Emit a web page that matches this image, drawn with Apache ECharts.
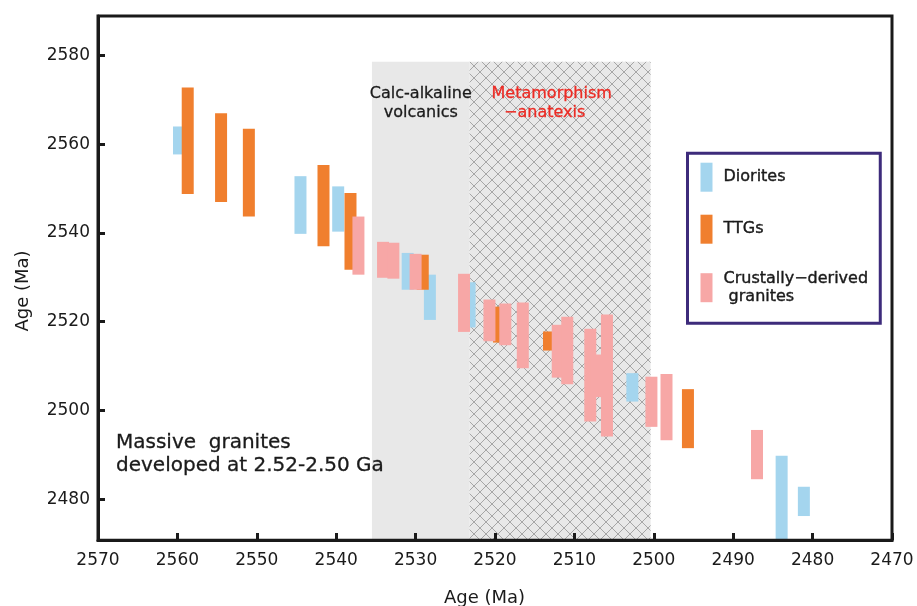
<!DOCTYPE html>
<html>
<head>
<meta charset="utf-8">
<script src="https://cdn.jsdelivr.net/npm/echarts@6/dist/echarts.min.js"></script>
<style>
  html, body { margin: 0; padding: 0; background: #ffffff; }
  #chart { width: 917px; height: 606px; }
</style>
</head>
<body>
<div id="chart"></div>
<script>
// x ticks (Ma), oldest on the left
const xTicks = [2570, 2560, 2550, 2540, 2530, 2520, 2510, 2500, 2490, 2480, 2470];
const yTicks = [2480, 2500, 2520, 2540, 2560, 2580];

// each bar: [age position, min, max]
const diorites = [
  [2559.8, 2557.7, 2564.0],
  [2544.5, 2539.8, 2552.8],
  [2539.75, 2540.3, 2550.5],
  [2531.0, 2527.2, 2535.5],
  [2528.2, 2520.4, 2530.6],
  [2523.2, 2518.7, 2528.9],
  [2502.7, 2502.0, 2508.4],
  [2483.9, 2468.0, 2489.8],
  [2481.1, 2476.2, 2482.8]
];
const ttgs = [
  [2558.7, 2548.8, 2572.8],
  [2554.5, 2547.0, 2567.0],
  [2551.0, 2543.7, 2563.5],
  [2541.6, 2537.0, 2555.3],
  [2538.2, 2531.7, 2549.0],
  [2529.1, 2527.2, 2535.1],
  [2519.5, 2515.3, 2523.4],
  [2513.2, 2513.5, 2517.8],
  [2495.7, 2491.5, 2504.8]
];
const crustal = [
  [2537.2, 2530.6, 2543.7],
  [2534.1, 2529.9, 2538.0],
  [2532.8, 2529.7, 2537.8],
  [2530.0, 2527.2, 2535.3],
  [2523.9, 2517.7, 2530.8],
  [2520.7, 2515.6, 2525.0],
  [2518.7, 2514.7, 2524.1],
  [2516.5, 2509.5, 2524.3],
  [2512.1, 2507.4, 2519.3],
  [2510.9, 2505.9, 2521.1],
  [2508.0, 2497.5, 2518.4],
  [2507.2, 2503.0, 2512.6],
  [2505.9, 2494.1, 2521.6],
  [2500.3, 2496.3, 2507.6],
  [2498.4, 2493.3, 2508.2],
  [2487.0, 2484.5, 2495.6]
];

// shaded periods: [from, to, top]
const zones = [
  [2535.5, 2523.2, 2578.6],
  [2523.2, 2500.4, 2578.6]
];

const FONT = 'DejaVu Sans';
const INK = '#1a1a1a';
const RED = '#ec2b24';

// crosshatch for metamorphism zone
function makeHatch() {
  const c = document.createElement('canvas');
  c.width = 12;
  c.height = 12;
  const ctx = c.getContext('2d');
  ctx.fillStyle = '#e8e8e8';
  ctx.fillRect(0, 0, 12, 12);
  ctx.strokeStyle = '#a6a6a6';
  ctx.lineWidth = 1;
  ctx.beginPath();
  ctx.moveTo(0, 0); ctx.lineTo(12, 12);
  ctx.moveTo(12, 0); ctx.lineTo(0, 12);
  ctx.stroke();
  return c;
}
const hatch = { image: makeHatch(), repeat: 'repeat' };

function barItem(params, api) {
  const top = api.coord([api.value(0), api.value(2)]);
  const bottom = api.coord([api.value(0), api.value(1)]);
  return {
    type: 'rect',
    shape: { x: top[0] - 6, y: top[1], width: 12, height: bottom[1] - top[1] },
    style: { fill: api.visual('color') }
  };
}

function zoneItem(params, api) {
  const cs = params.coordSys;
  const a = api.coord([api.value(0), api.value(2)]);
  const b = api.coord([api.value(1), api.value(2)]);
  return {
    type: 'rect',
    shape: { x: a[0], y: a[1], width: b[0] - a[0], height: cs.y + cs.height - a[1] },
    style: { fill: params.dataIndex === 0 ? '#e8e8e8' : hatch }
  };
}

function barSeries(name, data, color) {
  return {
    name: name,
    type: 'custom',
    renderItem: barItem,
    clip: true,
    itemStyle: { color: color },
    encode: { x: 0, y: [1, 2] },
    data: data,
    z: 3
  };
}

function note(text, x, y, size, color, align, lh) {
  return {
    type: 'text', z: 50,
    style: {
      text: text, x: x, y: y, align: align, verticalAlign: 'middle',
      font: size + 'px "DejaVu Sans"', lineHeight: lh, fill: color,
      stroke: color, lineWidth: 0.3
    }
  };
}

const plain = function (v) { return String(v); };

const chart = echarts.init(document.getElementById('chart'));
const option = {
  animation: false,
  grid: { left: 98, right: 25, top: 16, bottom: 66, outerBoundsMode: 'none', containLabel: false },
  xAxis: {
    type: 'value',
    inverse: true,
    min: xTicks[xTicks.length - 1],
    max: xTicks[0],
    interval: 10,
    name: 'Age (Ma)',
    nameLocation: 'middle',
    nameGap: 49,
    nameTextStyle: { fontFamily: FONT, fontSize: 18, color: INK, padding: [0, 21, 0, 0] },
    axisLine: { lineStyle: { color: INK, width: 3 } },
    axisTick: { inside: true, length: 7, lineStyle: { color: INK, width: 3 } },
    axisLabel: { fontFamily: FONT, fontSize: 17, color: INK, margin: 12, formatter: plain },
    splitLine: { show: false },
    z: 10
  },
  yAxis: {
    type: 'value',
    min: 2470.8,
    max: 2588.9,
    name: 'Age (Ma)',
    nameLocation: 'middle',
    nameGap: 66,
    nameRotate: 90,
    nameTextStyle: { fontFamily: FONT, fontSize: 18, color: INK, padding: [0, 26, 0, 0] },
    axisLine: { lineStyle: { color: INK, width: 3 } },
    axisTick: { inside: true, length: 7, customValues: yTicks, lineStyle: { color: INK, width: 3 } },
    axisLabel: { fontFamily: FONT, fontSize: 17, color: INK, margin: 8, customValues: yTicks, formatter: plain },
    splitLine: { show: false },
    z: 10
  },
  legend: {
    orient: 'vertical',
    left: 687.5,
    top: 153.2,
    padding: [9.5, 12, 14.5, 13],
    itemWidth: 12,
    itemHeight: 29,
    itemGap: 23,
    icon: 'rect',
    backgroundColor: '#ffffff',
    borderColor: '#3d2b7b',
    borderWidth: 3,
    formatter: function (name) {
      return name.replace(' granites', '\n granites');
    },
    textStyle: {
      fontFamily: FONT, fontSize: 16, color: INK, lineHeight: 18, padding: [6, 0, 0, 6],
      textBorderColor: INK, textBorderWidth: 0.4
    },
    data: ['Diorites', 'TTGs', 'Crustally−derived granites']
  },
  graphic: [
    // top and right frame lines
    { type: 'rect', z: 100, shape: { x: 98, y: 16, width: 794, height: 524.3 },
      style: { fill: null, stroke: INK, lineWidth: 3 } },
    note('Calc-alkaline\nvolcanics', 420.8, 103.5, 16, INK, 'center', 18.4),
    note('Metamorphism', 551.7, 94.3, 16, RED, 'center', 18.4),
    note('−anatexis', 544.7, 112.7, 16, RED, 'center', 18.4),
    note('Massive  granites\ndeveloped at 2.52-2.50 Ga', 116, 454.6, 20, INK, 'left', 22.7)
  ],
  series: [
    {
      type: 'custom',
      renderItem: zoneItem,
      silent: true,
      encode: { x: [0, 1], y: 2 },
      data: zones,
      z: 1
    },
    barSeries('Diorites', diorites, '#a4d5ee'),
    barSeries('TTGs', ttgs, '#f07f2e'),
    barSeries('Crustally−derived granites', crustal, '#f7a7a6')
  ]
};
chart.setOption(option);
</script>
</body>
</html>
